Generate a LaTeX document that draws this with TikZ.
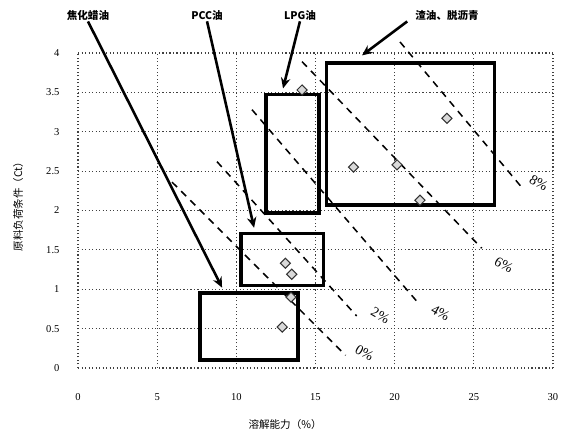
\documentclass[tikz,border=0pt]{standalone}
\usepackage{fontspec}
\setmainfont{Liberation Serif}
\newfontfamily\cjk{Noto Sans CJK SC}
\usepackage{tikz}
\usetikzlibrary{positioning}
\usetikzlibrary{arrows.meta,shapes.geometric}

\begin{document}
\begin{tikzpicture}[x=0.475cm,y=2.3625cm,every node/.style={inner sep=0.5,outer sep=0.5,font=\small},
    grid/.style={black!75,dotted,line width=1pt},
    region/.style={draw,line width=3pt},
    tag/.style={font=\cjk\bfseries\small},
    ptr/.style={line width=2.2pt,-{Stealth[length=9pt,width=8pt]}},
    iso/.style={line width=1.3pt,dash pattern=on 6pt off 5pt},
    pct/.style={font=\large,rotate=-30},
    mark pt/.style={diamond,draw=black!80,fill=black!15,line width=0.9pt,minimum size=9pt,inner sep=0}]
    \useasboundingbox (-4.927,-0.889) rectangle (30.76,4.673);
    % grid
    \foreach \y in {0,0.5,...,4} \draw[grid] (0,\y) -- (30,\y);
    \foreach \x in {0,5,...,30} \draw[grid] (\x,0) -- (\x,4);
    \foreach \y/\t in {0/0,0.5/0.5,1/1,1.5/1.5,2/2,2.5/2.5,3/3,3.5/3.5,4/4}
        \node[anchor=east] at (-1.1,\y) {\t};
    \foreach \x in {0,5,...,30}
        \node at (\x,-0.37) {\x};
    \node (XT) at (13.08,-0.72) {\cjk 溶解能力（\%）};
    \node (YT) [rotate=90] at (-3.79,2.08) {\cjk 原料负荷条件（Ct）};
    % iso lines
    \draw[iso] (5.94,2.36) -- (16.9,0.16);
    \draw[iso] (8.78,2.62) -- (17.6,0.66);
    \draw[iso] (10.99,3.28) -- (21.6,0.80);
    \draw[iso] (14.15,3.89) -- (25.5,1.52);
    \draw[iso] (20.34,4.14) -- (28.0,2.30);
    \node (Q0) [pct] at (18.1,0.19) {0\%};
    \node (Q2) [pct] at (19.1,0.67) {2\%};
    \node (Q4) [pct] at (22.9,0.70) {4\%};
    \node (Q6) [pct] at (26.9,1.31) {6\%};
    \node (Q8) [pct] at (29.1,2.35) {8\%};
    % regions
    \draw[region] (7.7,0.1) rectangle (13.9,0.95);
    \draw[region] (10.3,1.05) rectangle (15.5,1.71);
    \draw[region] (11.88,1.97) rectangle (15.22,3.47);
    \draw[region] (15.7,2.07) rectangle (26.3,3.87);
    % data
    \foreach \x/\y in {12.9/0.52,13.45/0.9,13.1/1.33,13.5/1.19,14.15/3.53,23.3/3.17,17.4/2.55,20.15/2.58,21.6/2.13}
        \node[mark pt] at (\x,\y) {};
    % tags
    \node (L1) [tag] at (0.63,4.48) {焦化蜡油};
    \node (L2) [tag] at (8.15,4.48) {PCC油};
    \node (L3) [tag] at (14.02,4.48) {LPG油};
    \node (L4) [tag] at (23.31,4.48) {渣油、脱沥青};
    \coordinate (E1) at (9.10,1.02);
    \coordinate (E2) at (11.12,1.78);
    \coordinate (E3) at (12.95,3.55);
    \coordinate (E4) at (17.94,3.97);
    \draw[ptr] (L1.south) -- (E1);
    \draw[ptr] (L2.south) -- (E2);
    \draw[ptr] (L3.south) -- (E3);
    \draw[ptr] ([xshift=-6pt]L4.south west) -- (E4);
\end{tikzpicture}
\end{document}
